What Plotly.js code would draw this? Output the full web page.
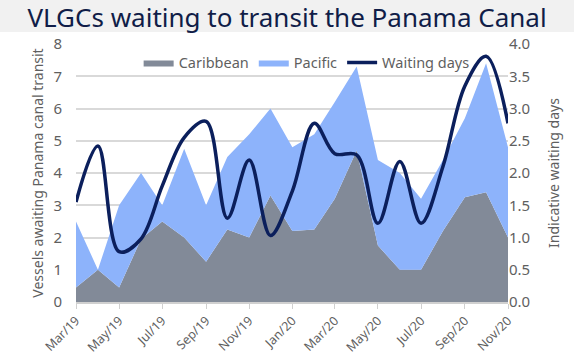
<!DOCTYPE html>
<html>
<head>
<meta charset="utf-8">
<script src="https://cdn.plot.ly/plotly-3.0.1.min.js"></script>
<style>
html,body{margin:0;padding:0;background:#fff;}
#chart{width:574px;height:363px;}
</style>
</head>
<body>
<div id="chart"></div>
<script>
var months = ["2019-03-01","2019-04-01","2019-05-01","2019-06-01","2019-07-01","2019-08-01","2019-09-01","2019-10-01","2019-11-01","2019-12-01","2020-01-01","2020-02-01","2020-03-01","2020-04-01","2020-05-01","2020-06-01","2020-07-01","2020-08-01","2020-09-01","2020-10-01","2020-11-01"];
var caribbean = [0.45,1.0,0.45,1.95,2.5,2.0,1.25,2.25,2.0,3.3,2.2,2.25,3.2,4.7,1.75,1.0,1.0,2.2,3.25,3.4,2.0];
var pacific   = [2.05,0.0,2.55,2.05,0.5,2.75,1.75,2.25,3.2,2.7,2.6,2.95,3.0,2.6,2.65,3.0,2.2,2.2,2.45,4.0,2.8];
var waitingDays = [1.55,2.42,0.78,0.98,1.8,2.55,2.8,1.3,2.2,1.03,1.72,2.77,2.3,2.28,1.22,2.18,1.22,2.1,3.35,3.81,2.77];

var fontFam = "'Noto Sans', sans-serif";
var grey = "#5f5f5f";

var traces = [
  {x: months, y: caribbean, name: "Caribbean", type: "scatter", mode: "lines",
   stackgroup: "s", line: {width: 0, color: "#828a98"}, fillcolor: "#828a98"},
  {x: months, y: pacific, name: "Pacific", type: "scatter", mode: "lines",
   stackgroup: "s", line: {width: 0, color: "#8db3fb"}, fillcolor: "#8db3fb"},
  {x: months, y: waitingDays, name: "Waiting days", type: "scatter", mode: "lines",
   yaxis: "y2", line: {color: "#0b1f5c", width: 3.5, shape: "spline", smoothing: 1}}
];

var layout = {
  width: 574, height: 363,
  margin: {l: 76, r: 66, t: 44, b: 61},
  paper_bgcolor: "#ffffff", plot_bgcolor: "#ffffff",
  font: {family: fontFam, color: grey, size: 13},
  title: {text: "VLGCs waiting to transit the Panama Canal", font: {family: fontFam, size: 26, color: "#101d48"},
          x: 0.5, xanchor: "center", y: 0.952, yanchor: "middle", yref: "container"},
  shapes: [{type: "rect", xref: "paper", yref: "paper", x0: -76/432, x1: 498/432, y0: 270/258, y1: 302/258,
            fillcolor: "#f1f1f1", line: {width: 0}, layer: "below"}],
  showlegend: true,
  legend: {orientation: "h", x: 0.145, y: 0.99, xanchor: "left", yanchor: "top",
           bgcolor: "rgba(0,0,0,0)", font: {size: 14.5, color: grey}, traceorder: "normal"},
  xaxis: {type: "date", range: ["2019-03-01","2020-11-01"], tickformat: "%b/%y", dtick: "M2",
          tick0: "2019-03-01", tickangle: -45, ticks: "outside", ticklen: 5, tickcolor: "#d0d0d0",
          showgrid: false, showline: true, linecolor: "#d0d0d0", linewidth: 1.5,
          tickfont: {size: 12.5, color: grey}, zeroline: false},
  yaxis: {range: [0, 8], dtick: 1, showgrid: true, gridcolor: "#d9d9d9", gridwidth: 2,
          zeroline: false, tickfont: {size: 15, color: grey}, ticks: "outside", ticklen: 10,
          tickcolor: "rgba(0,0,0,0)",
          title: {text: "Vessels awaiting Panama canal transit", font: {size: 14, color: grey}, standoff: 6}},
  yaxis2: {range: [0, 4], dtick: 0.5, tickformat: ".1f", overlaying: "y", side: "right",
           showgrid: false, zeroline: false, tickfont: {size: 15, color: grey},
           title: {text: "Indicative waiting days", font: {size: 14, color: grey}, standoff: 20}}
};

Plotly.newPlot("chart", traces, layout, {displayModeBar: false, staticPlot: true});
</script>
</body>
</html>
